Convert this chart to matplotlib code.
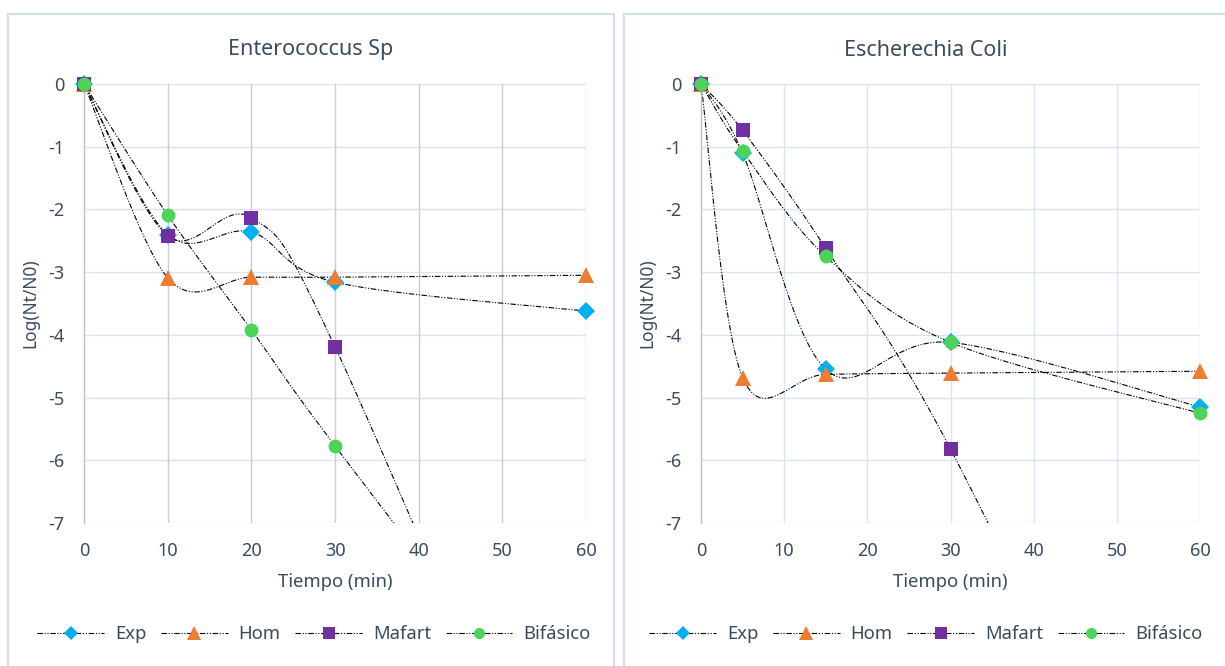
import numpy as np
import matplotlib
matplotlib.use("Agg")
import matplotlib.pyplot as plt
from matplotlib.lines import Line2D
from matplotlib.patches import Rectangle

plt.rcParams['font.family'] = ['Noto Sans', 'DejaVu Sans']
plt.rcParams['axes.unicode_minus'] = False

# ---- data ----
series_names = ["Exp", "Hom", "Mafart", "Bifásico"]

t_entero = [0, 10, 20, 30, 60]
entero_exp = [0, -2.40, -2.36, -3.16, -3.62]
entero_hom = [0, -3.09, -3.08, -3.08, -3.05]
entero_mafart = [0, -2.42, -2.13, -4.19, -13.5]
entero_bif = [0, -2.09, -3.92, -5.77, -11.0]

t_coli = [0, 5, 15, 30, 60]
coli_exp = [0, -1.10, -4.55, -4.12, -5.15]
coli_hom = [0, -4.68, -4.63, -4.61, -4.58]
coli_mafart = [0, -0.74, -2.62, -5.82, -14.0]
coli_bif = [0, -1.07, -2.75, -4.12, -5.25]

x_ticks = [0, 10, 20, 30, 40, 50, 60]
y_ticks = [0, -1, -2, -3, -4, -5, -6, -7]

titles = ["Enterococcus Sp", "Escherechia Coli"]
x_label = "Tiempo (min)"
y_label = "Log(Nt/N0)"

# ---- styles ----
colors = ["#00B0F0", "#ED7D31", "#7030A0", "#4CD45A"]
markers = ["D", "^", "s", "o"]
msizes = [9, 11, 10, 10]
leg_msizes = [7, 10, 9, 8]
TEXT = "#3B4B5E"
GRID_BLUE = "#D9E4F2"
GRID_GRAY = "#CCCCCC"
DASH = (0, (5, 1.5, 1, 1.5, 1, 1.5))


def smooth(x, y, n=60):
    x = np.asarray(x, float)
    y = np.asarray(y, float)
    P = np.column_stack([x, y])
    out = []
    for i in range(len(P) - 1):
        p0 = P[i - 1] if i > 0 else P[i]
        p1 = P[i]
        p2 = P[i + 1]
        p3 = P[i + 2] if i + 2 < len(P) else P[i + 1]
        c1 = p1 + (p2 - p0) / 6.0
        c2 = p2 - (p3 - p1) / 6.0
        t = np.linspace(0, 1, n)[:, None]
        seg = ((1 - t) ** 3) * p1 + 3 * ((1 - t) ** 2) * t * c1 + 3 * (1 - t) * t ** 2 * c2 + t ** 3 * p2
        out.append(seg if i == 0 else seg[1:])
    s = np.vstack(out)
    return s[:, 0], s[:, 1]


W, H = 1225, 666
fig = plt.figure(figsize=(W / 100, H / 100), dpi=100)

# panel frames
for (x0, x1) in [(8, 614), (624, 1232)]:
    fig.add_artist(Rectangle((x0 / W, -0.05), (x1 - x0) / W, (H - 14) / H + 0.05,
                             transform=fig.transFigure, fill=False,
                             edgecolor="#CFDDF0", linewidth=1.5))

panels = [
    (84, 586, t_entero, [entero_exp, entero_hom, entero_mafart, entero_bif], GRID_GRAY, 311),
    (701, 1200, t_coli, [coli_exp, coli_hom, coli_mafart, coli_bif], GRID_BLUE, 926),
]
top_px, bot_px = 84, 523

for k, (xl, xr, tt, ys, vgrid, tcx) in enumerate(panels):
    ax = fig.add_axes([xl / W, (H - bot_px) / H, (xr - xl) / W, (bot_px - top_px) / H])
    ax.set_xlim(0, 60)
    ax.set_ylim(-7, 0)
    ax.set_xticks(x_ticks)
    ax.set_yticks(y_ticks)
    for s in ["top", "right", "bottom"]:
        ax.spines[s].set_visible(False)
    ax.spines["left"].set_color("#BFBFBF")
    ax.spines["left"].set_linewidth(1.0)
    ax.tick_params(length=0, labelsize=13, colors=TEXT, pad=14)
    ax.set_axisbelow(True)
    for yv in y_ticks:
        ax.axhline(yv, color=GRID_BLUE, linewidth=1.0, zorder=0)
    for xv in x_ticks[1:]:
        ax.axvline(xv, color=vgrid, linewidth=1.0, zorder=0)
    for i, yv in enumerate(ys):
        sx, sy = smooth(tt, yv)
        ax.plot(sx, sy, color="black", linewidth=0.8, linestyle=DASH, zorder=2)
    for i, yv in enumerate(ys):
        ax.plot(tt, yv, linestyle="none", marker=markers[i], markersize=msizes[i],
                color=colors[i], markeredgewidth=0, zorder=3 + i, clip_on=False)
    fig.text(tcx / W, (H - 50) / H, titles[k], ha="center", va="center",
             fontsize=15.5, color=TEXT)
    fig.text((xl + xr) / 2 / W, (H - 582) / H, x_label, ha="center", va="center",
             fontsize=13.3, color=TEXT)
    fig.text((xl - 54) / W, (H - 303) / H, y_label, ha="center", va="center",
             fontsize=12.5, color=TEXT, rotation=90)

    handles = [Line2D([0], [0], color="black", linewidth=0.8, linestyle=DASH,
                      marker=markers[i], markersize=leg_msizes[i], markerfacecolor=colors[i],
                      markeredgewidth=0) for i in range(4)]
    leg_cx = [314, 926][k]
    fig.legend(handles, series_names, loc="center", bbox_to_anchor=(leg_cx / W, (H - 634) / H),
               ncol=4, frameon=False, fontsize=13.3, handlelength=3.6, columnspacing=0.8,
               handletextpad=0.6, labelcolor=TEXT)

fig.savefig("out.png", dpi=100)
